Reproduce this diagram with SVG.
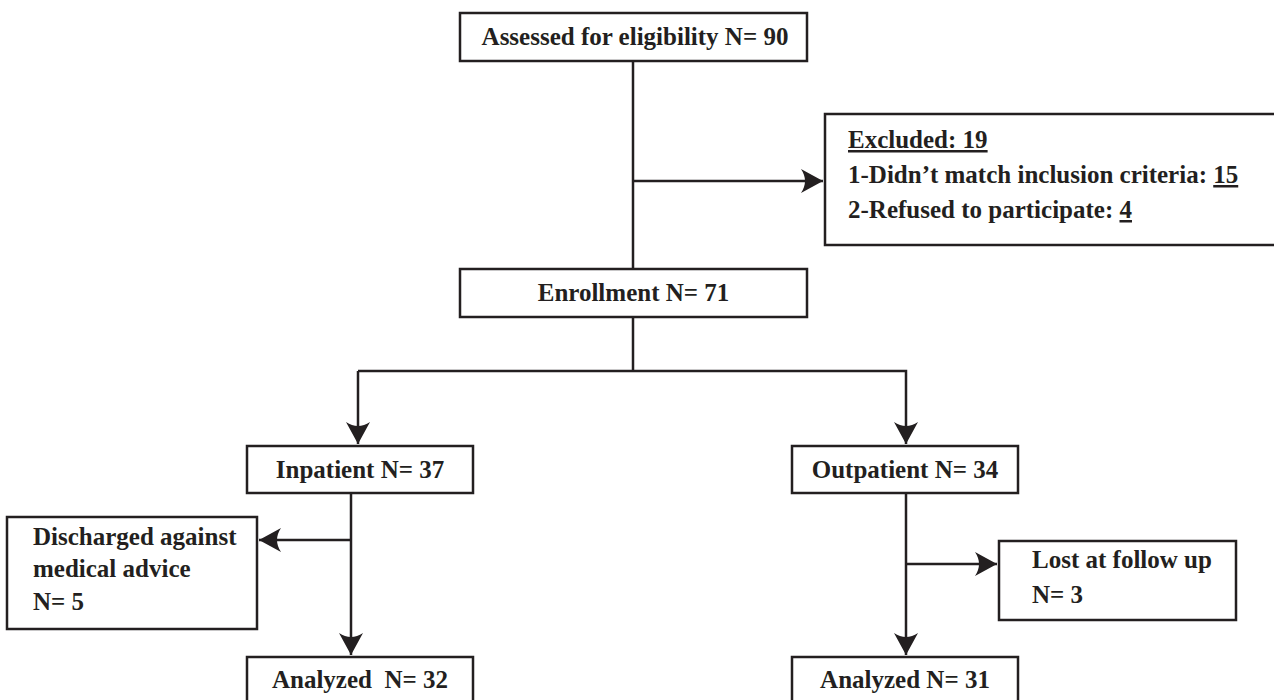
<svg xmlns="http://www.w3.org/2000/svg" width="1274" height="700" viewBox="0 0 1274 700">
<defs>
<style>
.box{fill:#fff;stroke:#231f20;stroke-width:2.5}
.ln{fill:none;stroke:#231f20;stroke-width:2.5}
text{font-family:"Liberation Serif","Times New Roman",serif;font-weight:bold;font-size:25px;fill:#231f20}
.c{text-anchor:middle}
.u{text-decoration:underline}
</style>
<marker id="ah" markerUnits="userSpaceOnUse" markerWidth="26" markerHeight="26" refX="22" refY="12" orient="auto" viewBox="0 0 26 24">
<path d="M22,12 L0,0 Q8,12 0,24 Z" fill="#231f20"/>
</marker>
</defs>
<g id="connectors">
<line class="ln" x1="633" y1="61" x2="633" y2="269"/>
<line class="ln" x1="633" y1="181" x2="823" y2="181" marker-end="url(#ah)"/>
<line class="ln" x1="633" y1="317" x2="633" y2="371"/>
<polyline class="ln" points="358,371 906,371 906,444" marker-end="url(#ah)"/>
<line class="ln" x1="358" y1="371" x2="358" y2="444" marker-end="url(#ah)"/>
<line class="ln" x1="351" y1="493" x2="351" y2="655" marker-end="url(#ah)"/>
<line class="ln" x1="351" y1="540" x2="259" y2="540" marker-end="url(#ah)"/>
<line class="ln" x1="906" y1="493" x2="906" y2="655" marker-end="url(#ah)"/>
<line class="ln" x1="906" y1="564" x2="997" y2="564" marker-end="url(#ah)"/>
</g>
<g id="assessed">
<rect class="box" x="460" y="13" width="347" height="48"/>
<text class="c" x="635" y="45">Assessed for eligibility N= 90</text>
</g>
<g id="excluded">
<rect class="box" x="825" y="114" width="460" height="131"/>
<text x="848" y="148"><tspan class="u">Excluded: 19</tspan></text>
<text x="848" y="183">1-Didn’t match inclusion criteria: <tspan class="u">15</tspan></text>
<text x="848" y="218">2-Refused to participate: <tspan class="u">4</tspan></text>
</g>
<g id="enrollment">
<rect class="box" x="460" y="269" width="347" height="48"/>
<text class="c" x="633.5" y="301">Enrollment N= 71</text>
</g>
<g id="inpatient">
<rect class="box" x="247" y="446" width="226" height="47"/>
<text class="c" x="360" y="478">Inpatient N= 37</text>
</g>
<g id="outpatient">
<rect class="box" x="792" y="446" width="226" height="47"/>
<text class="c" x="905" y="478">Outpatient N= 34</text>
</g>
<g id="discharged">
<rect class="box" x="7" y="517" width="250" height="112"/>
<text x="33" y="545">Discharged against</text>
<text x="33" y="577">medical advice</text>
<text x="33" y="610">N= 5</text>
</g>
<g id="lost">
<rect class="box" x="999" y="541" width="237" height="79"/>
<text x="1032" y="568">Lost at follow up</text>
<text x="1032" y="603">N= 3</text>
</g>
<g id="analyzed-in">
<rect class="box" x="247" y="657" width="226" height="60"/>
<text class="c" x="360" y="688" xml:space="preserve">Analyzed  N= 32</text>
</g>
<g id="analyzed-out">
<rect class="box" x="792" y="657" width="226" height="60"/>
<text class="c" x="905" y="688">Analyzed N= 31</text>
</g>
</svg>
